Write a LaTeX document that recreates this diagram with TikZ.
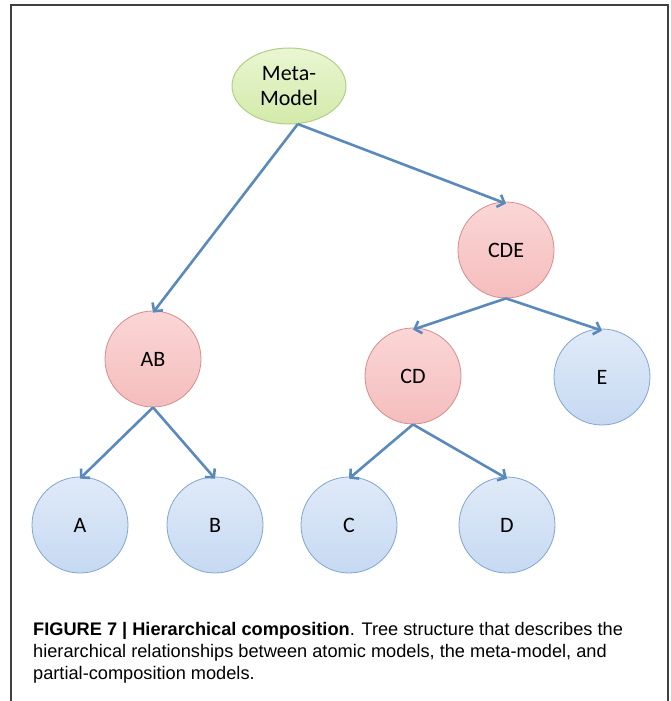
\documentclass[tikz,border=0pt]{standalone}
\usepackage{fontspec}
\setmainfont{Carlito}
\newfontfamily\capfont{Liberation Sans}
\usepackage{tikz}
\usetikzlibrary{arrows.meta,shapes.geometric}
\definecolor{edgeblue}{HTML}{5A89BC}
\definecolor{metatop}{HTML}{EAF6D2}
\definecolor{metabot}{HTML}{D3EAAA}
\definecolor{metaline}{HTML}{B2CF86}
\definecolor{redtop}{HTML}{FBD6D6}
\definecolor{redbot}{HTML}{F5BDBD}
\definecolor{redline}{HTML}{D68C8C}
\definecolor{bluetop}{HTML}{E0EAF8}
\definecolor{bluebot}{HTML}{C6D9F2}
\definecolor{blueline}{HTML}{7FA5D1}

\begin{document}
\begin{tikzpicture}[x=1pt,y=-1pt,
	every node/.style={font=\fontsize{22}{25}\selectfont},
	meta/.style={ellipse,minimum width=114pt,minimum height=76pt,inner sep=0pt,
		draw=metaline,line width=1pt,top color=metatop,bottom color=metabot,align=center},
	inner/.style={circle,minimum size=96pt,inner sep=0pt,
		draw=redline,line width=0.8pt,top color=redtop,bottom color=redbot},
	leaf/.style={circle,minimum size=96pt,inner sep=0pt,
		draw=blueline,line width=0.8pt,top color=bluetop,bottom color=bluebot},
	link/.style={-{Straight Barb[length=6pt,width=13pt]},line width=2.6pt,edgeblue}]
\useasboundingbox (0,0) rectangle (670,701);
\draw[line width=1.2pt,black!75] (11,701) -- (11,5) -- (668,5) -- (668,701);

% tree
\node[meta] (meta) at (289,86) {Meta-\\Model};
\node[inner] (ab) at (153,359) {AB};
\node[inner] (cde) at (506,250) {CDE};
\node[inner] (cd) at (413,376) {CD};
\node[leaf] (e) at (602,377) {E};
\foreach \n/\x in {a/80,b/215,c/349,d/507}
	\node[leaf] (\n) at (\x,525) {\MakeUppercase{\n}};

\draw[link] (meta.-77) -- ([yshift=-2pt]ab.north);
\draw[link] (meta.-77) -- ([yshift=-2pt]cde.north);
\foreach \p/\c in {ab/a,ab/b,cde/cd,cde/e,cd/c,cd/d}
	\draw[link] (\p.south) -- ([yshift=-2pt]\c.north);

% caption
\node[anchor=north west,align=left,inner sep=0pt,
	font=\capfont\fontsize{18.2}{22}\selectfont] (cap) at (33,622)
	{\textbf{FIGURE 7 | Hierarchical composition}. Tree structure that describes the\\
	hierarchical relationships between atomic models, the meta-model, and\\
	partial-composition models.};
\end{tikzpicture}
\end{document}
